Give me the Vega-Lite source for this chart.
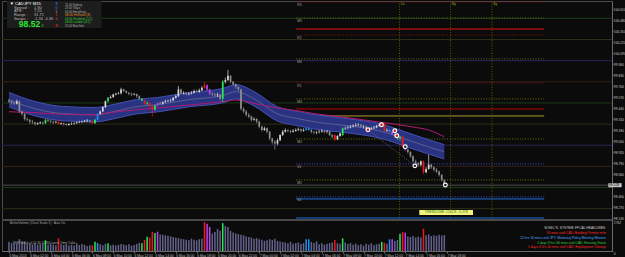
{
"$schema":"https://vega.github.io/schema/vega-lite/v6.json",
"background":"#0b0b0b",
"padding":{"left":1,"top":0,"right":0,"bottom":0},
"spacing":1,
"bounds":"flush",
"config":{"view":{"stroke":"#4a4a4a","strokeWidth":1},"text":{"font":"Liberation Sans"},"axis":{"labelFont":"Liberation Sans","grid":false}},
"datasets":{
"bars":[
{"i":0,"o":99.53,"h":99.55,"l":99.5,"c":99.515,"v":820,"k":"n"},
{"i":1,"o":99.515,"h":99.53,"l":99.48,"c":99.5,"v":700,"k":"n"},
{"i":2,"o":99.5,"h":99.52,"l":99.47,"c":99.49,"v":760,"k":"n"},
{"i":3,"o":99.49,"h":99.54,"l":99.48,"c":99.52,"v":650,"k":"n"},
{"i":4,"o":99.52,"h":99.53,"l":99.38,"c":99.4,"v":1050,"k":"n"},
{"i":5,"o":99.4,"h":99.41,"l":99.35,"c":99.37,"v":900,"k":"n"},
{"i":6,"o":99.37,"h":99.38,"l":99.29,"c":99.31,"v":860,"k":"n"},
{"i":7,"o":99.31,"h":99.33,"l":99.28,"c":99.3,"v":640,"k":"n"},
{"i":8,"o":99.3,"h":99.31,"l":99.25,"c":99.28,"v":720,"k":"n"},
{"i":9,"o":99.28,"h":99.3,"l":99.25,"c":99.27,"v":600,"k":"n"},
{"i":10,"o":99.27,"h":99.28,"l":99.23,"c":99.25,"v":680,"k":"n"},
{"i":11,"o":99.25,"h":99.27,"l":99.24,"c":99.26,"v":560,"k":"n"},
{"i":12,"o":99.26,"h":99.28,"l":99.25,"c":99.27,"v":620,"k":"n"},
{"i":13,"o":99.27,"h":99.28,"l":99.24,"c":99.26,"v":700,"k":"n"},
{"i":14,"o":99.26,"h":99.31,"l":99.25,"c":99.3,"v":950,"k":"g"},
{"i":15,"o":99.3,"h":99.31,"l":99.27,"c":99.29,"v":580,"k":"n"},
{"i":16,"o":99.29,"h":99.3,"l":99.26,"c":99.28,"v":640,"k":"n"},
{"i":17,"o":99.28,"h":99.29,"l":99.25,"c":99.27,"v":560,"k":"n"},
{"i":18,"o":99.27,"h":99.29,"l":99.26,"c":99.275,"v":520,"k":"n"},
{"i":19,"o":99.275,"h":99.3,"l":99.24,"c":99.25,"v":1130,"k":"r"},
{"i":20,"o":99.25,"h":99.27,"l":99.24,"c":99.26,"v":600,"k":"n"},
{"i":21,"o":99.26,"h":99.27,"l":99.23,"c":99.25,"v":540,"k":"n"},
{"i":22,"o":99.25,"h":99.26,"l":99.23,"c":99.24,"v":620,"k":"n"},
{"i":23,"o":99.24,"h":99.26,"l":99.23,"c":99.25,"v":500,"k":"n"},
{"i":24,"o":99.25,"h":99.27,"l":99.24,"c":99.255,"v":560,"k":"n"},
{"i":25,"o":99.255,"h":99.27,"l":99.24,"c":99.26,"v":480,"k":"n"},
{"i":26,"o":99.26,"h":99.28,"l":99.25,"c":99.27,"v":700,"k":"n"},
{"i":27,"o":99.27,"h":99.29,"l":99.26,"c":99.275,"v":540,"k":"n"},
{"i":28,"o":99.275,"h":99.29,"l":99.26,"c":99.28,"v":620,"k":"n"},
{"i":29,"o":99.28,"h":99.3,"l":99.27,"c":99.29,"v":560,"k":"n"},
{"i":30,"o":99.29,"h":99.31,"l":99.27,"c":99.295,"v":450,"k":"n"},
{"i":31,"o":99.295,"h":99.3,"l":99.26,"c":99.28,"v":520,"k":"n"},
{"i":32,"o":99.28,"h":99.29,"l":99.25,"c":99.26,"v":500,"k":"r"},
{"i":33,"o":99.26,"h":99.31,"l":99.25,"c":99.3,"v":830,"k":"g"},
{"i":34,"o":99.3,"h":99.38,"l":99.29,"c":99.37,"v":710,"k":"b"},
{"i":35,"o":99.37,"h":99.41,"l":99.36,"c":99.4,"v":600,"k":"n"},
{"i":36,"o":99.4,"h":99.46,"l":99.39,"c":99.45,"v":520,"k":"n"},
{"i":37,"o":99.45,"h":99.53,"l":99.44,"c":99.52,"v":640,"k":"n"},
{"i":38,"o":99.52,"h":99.57,"l":99.5,"c":99.56,"v":680,"k":"g"},
{"i":39,"o":99.56,"h":99.59,"l":99.55,"c":99.57,"v":500,"k":"n"},
{"i":40,"o":99.57,"h":99.61,"l":99.56,"c":99.6,"v":560,"k":"n"},
{"i":41,"o":99.6,"h":99.62,"l":99.59,"c":99.61,"v":480,"k":"n"},
{"i":42,"o":99.61,"h":99.63,"l":99.6,"c":99.615,"v":540,"k":"n"},
{"i":43,"o":99.615,"h":99.68,"l":99.6,"c":99.66,"v":620,"k":"n"},
{"i":44,"o":99.66,"h":99.67,"l":99.63,"c":99.64,"v":580,"k":"n"},
{"i":45,"o":99.64,"h":99.65,"l":99.61,"c":99.62,"v":520,"k":"n"},
{"i":46,"o":99.62,"h":99.63,"l":99.59,"c":99.61,"v":600,"k":"n"},
{"i":47,"o":99.61,"h":99.62,"l":99.58,"c":99.6,"v":460,"k":"n"},
{"i":48,"o":99.6,"h":99.62,"l":99.59,"c":99.605,"v":540,"k":"n"},
{"i":49,"o":99.605,"h":99.61,"l":99.56,"c":99.58,"v":640,"k":"n"},
{"i":50,"o":99.58,"h":99.59,"l":99.54,"c":99.55,"v":720,"k":"n"},
{"i":51,"o":99.55,"h":99.56,"l":99.52,"c":99.53,"v":680,"k":"g"},
{"i":52,"o":99.53,"h":99.54,"l":99.48,"c":99.49,"v":980,"k":"r"},
{"i":53,"o":99.49,"h":99.52,"l":99.47,"c":99.5,"v":1280,"k":"g"},
{"i":54,"o":99.5,"h":99.51,"l":99.44,"c":99.46,"v":1190,"k":"r"},
{"i":55,"o":99.46,"h":99.47,"l":99.34,"c":99.42,"v":1690,"k":"r"},
{"i":56,"o":99.42,"h":99.48,"l":99.41,"c":99.47,"v":1600,"k":"g"},
{"i":57,"o":99.47,"h":99.51,"l":99.46,"c":99.5,"v":1720,"k":"m"},
{"i":58,"o":99.5,"h":99.52,"l":99.48,"c":99.49,"v":1480,"k":"n"},
{"i":59,"o":99.49,"h":99.52,"l":99.48,"c":99.51,"v":1450,"k":"n"},
{"i":60,"o":99.51,"h":99.54,"l":99.5,"c":99.52,"v":1400,"k":"n"},
{"i":61,"o":99.52,"h":99.54,"l":99.51,"c":99.525,"v":1350,"k":"n"},
{"i":62,"o":99.525,"h":99.55,"l":99.51,"c":99.53,"v":1300,"k":"n"},
{"i":63,"o":99.53,"h":99.57,"l":99.52,"c":99.56,"v":1250,"k":"n"},
{"i":64,"o":99.56,"h":99.6,"l":99.55,"c":99.58,"v":1200,"k":"n"},
{"i":65,"o":99.58,"h":99.7,"l":99.57,"c":99.66,"v":1150,"k":"n"},
{"i":66,"o":99.66,"h":99.67,"l":99.6,"c":99.61,"v":1100,"k":"n"},
{"i":67,"o":99.61,"h":99.64,"l":99.6,"c":99.62,"v":1050,"k":"n"},
{"i":68,"o":99.62,"h":99.63,"l":99.59,"c":99.6,"v":1000,"k":"n"},
{"i":69,"o":99.6,"h":99.63,"l":99.59,"c":99.61,"v":950,"k":"n"},
{"i":70,"o":99.61,"h":99.64,"l":99.6,"c":99.62,"v":1100,"k":"n"},
{"i":71,"o":99.62,"h":99.66,"l":99.61,"c":99.64,"v":1000,"k":"n"},
{"i":72,"o":99.64,"h":99.66,"l":99.62,"c":99.63,"v":950,"k":"n"},
{"i":73,"o":99.63,"h":99.67,"l":99.62,"c":99.65,"v":1050,"k":"n"},
{"i":74,"o":99.65,"h":99.7,"l":99.64,"c":99.68,"v":1100,"k":"n"},
{"i":75,"o":99.68,"h":99.75,"l":99.67,"c":99.71,"v":2580,"k":"r"},
{"i":76,"o":99.71,"h":99.72,"l":99.64,"c":99.66,"v":2430,"k":"m"},
{"i":77,"o":99.66,"h":99.67,"l":99.59,"c":99.61,"v":2140,"k":"m"},
{"i":78,"o":99.61,"h":99.63,"l":99.58,"c":99.6,"v":1550,"k":"n"},
{"i":79,"o":99.6,"h":99.62,"l":99.57,"c":99.59,"v":1700,"k":"n"},
{"i":80,"o":99.59,"h":99.62,"l":99.57,"c":99.6,"v":1960,"k":"n"},
{"i":81,"o":99.6,"h":99.61,"l":99.53,"c":99.55,"v":1800,"k":"n"},
{"i":82,"o":99.55,"h":99.77,"l":99.51,"c":99.75,"v":2480,"k":"g"},
{"i":83,"o":99.75,"h":99.8,"l":99.73,"c":99.77,"v":2220,"k":"n"},
{"i":84,"o":99.77,"h":99.89,"l":99.76,"c":99.82,"v":2140,"k":"n"},
{"i":85,"o":99.82,"h":99.83,"l":99.73,"c":99.75,"v":1800,"k":"n"},
{"i":86,"o":99.75,"h":99.76,"l":99.7,"c":99.72,"v":1650,"k":"n"},
{"i":87,"o":99.72,"h":99.73,"l":99.67,"c":99.69,"v":1550,"k":"n"},
{"i":88,"o":99.69,"h":99.7,"l":99.64,"c":99.66,"v":1500,"k":"n"},
{"i":89,"o":99.66,"h":99.67,"l":99.41,"c":99.43,"v":1450,"k":"n"},
{"i":90,"o":99.43,"h":99.45,"l":99.38,"c":99.4,"v":1400,"k":"n"},
{"i":91,"o":99.4,"h":99.42,"l":99.34,"c":99.36,"v":1300,"k":"n"},
{"i":92,"o":99.36,"h":99.38,"l":99.32,"c":99.34,"v":1250,"k":"n"},
{"i":93,"o":99.34,"h":99.35,"l":99.28,"c":99.3,"v":1200,"k":"n"},
{"i":94,"o":99.3,"h":99.33,"l":99.29,"c":99.31,"v":1100,"k":"n"},
{"i":95,"o":99.31,"h":99.32,"l":99.26,"c":99.28,"v":1150,"k":"n"},
{"i":96,"o":99.28,"h":99.29,"l":99.2,"c":99.22,"v":1050,"k":"n"},
{"i":97,"o":99.22,"h":99.23,"l":99.16,"c":99.18,"v":1000,"k":"n"},
{"i":98,"o":99.18,"h":99.22,"l":99.17,"c":99.2,"v":900,"k":"n"},
{"i":99,"o":99.2,"h":99.21,"l":99.14,"c":99.16,"v":950,"k":"n"},
{"i":100,"o":99.16,"h":99.17,"l":99.06,"c":99.08,"v":1050,"k":"n"},
{"i":101,"o":99.08,"h":99.09,"l":99.01,"c":99.04,"v":980,"k":"n"},
{"i":102,"o":99.04,"h":99.06,"l":98.95,"c":99.02,"v":1100,"k":"n"},
{"i":103,"o":99.02,"h":99.08,"l":99.0,"c":99.06,"v":900,"k":"n"},
{"i":104,"o":99.06,"h":99.13,"l":99.05,"c":99.12,"v":850,"k":"n"},
{"i":105,"o":99.12,"h":99.18,"l":99.11,"c":99.16,"v":800,"k":"n"},
{"i":106,"o":99.16,"h":99.2,"l":99.15,"c":99.18,"v":760,"k":"n"},
{"i":107,"o":99.18,"h":99.19,"l":99.15,"c":99.17,"v":700,"k":"n"},
{"i":108,"o":99.17,"h":99.18,"l":99.14,"c":99.16,"v":820,"k":"n"},
{"i":109,"o":99.16,"h":99.19,"l":99.15,"c":99.17,"v":640,"k":"n"},
{"i":110,"o":99.17,"h":99.2,"l":99.16,"c":99.18,"v":700,"k":"n"},
{"i":111,"o":99.18,"h":99.21,"l":99.17,"c":99.19,"v":760,"k":"n"},
{"i":112,"o":99.19,"h":99.2,"l":99.15,"c":99.17,"v":620,"k":"n"},
{"i":113,"o":99.17,"h":99.2,"l":99.16,"c":99.18,"v":700,"k":"n"},
{"i":114,"o":99.18,"h":99.21,"l":99.17,"c":99.2,"v":1040,"k":"b"},
{"i":115,"o":99.2,"h":99.21,"l":99.17,"c":99.18,"v":1040,"k":"b"},
{"i":116,"o":99.18,"h":99.19,"l":99.14,"c":99.16,"v":800,"k":"n"},
{"i":117,"o":99.16,"h":99.17,"l":99.13,"c":99.15,"v":720,"k":"n"},
{"i":118,"o":99.15,"h":99.17,"l":99.13,"c":99.155,"v":860,"k":"n"},
{"i":119,"o":99.155,"h":99.18,"l":99.14,"c":99.16,"v":600,"k":"n"},
{"i":120,"o":99.16,"h":99.19,"l":99.15,"c":99.17,"v":680,"k":"n"},
{"i":121,"o":99.17,"h":99.18,"l":99.14,"c":99.16,"v":560,"k":"n"},
{"i":122,"o":99.16,"h":99.18,"l":99.14,"c":99.165,"v":640,"k":"n"},
{"i":123,"o":99.165,"h":99.17,"l":99.11,"c":99.12,"v":700,"k":"n"},
{"i":124,"o":99.12,"h":99.13,"l":99.08,"c":99.1,"v":760,"k":"n"},
{"i":125,"o":99.12,"h":99.13,"l":99.05,"c":99.07,"v":980,"k":"r"},
{"i":126,"o":99.07,"h":99.12,"l":99.06,"c":99.11,"v":700,"k":"n"},
{"i":127,"o":99.11,"h":99.15,"l":99.1,"c":99.14,"v":640,"k":"n"},
{"i":128,"o":99.12,"h":99.21,"l":99.11,"c":99.2,"v":1130,"k":"g"},
{"i":129,"o":99.2,"h":99.22,"l":99.18,"c":99.205,"v":760,"k":"n"},
{"i":130,"o":99.205,"h":99.23,"l":99.19,"c":99.21,"v":620,"k":"n"},
{"i":131,"o":99.21,"h":99.24,"l":99.2,"c":99.22,"v":700,"k":"n"},
{"i":132,"o":99.22,"h":99.25,"l":99.21,"c":99.23,"v":560,"k":"n"},
{"i":133,"o":99.23,"h":99.26,"l":99.22,"c":99.24,"v":660,"k":"n"},
{"i":134,"o":99.24,"h":99.26,"l":99.22,"c":99.245,"v":520,"k":"n"},
{"i":135,"o":99.245,"h":99.25,"l":99.21,"c":99.22,"v":600,"k":"n"},
{"i":136,"o":99.22,"h":99.24,"l":99.2,"c":99.225,"v":480,"k":"n"},
{"i":137,"o":99.225,"h":99.23,"l":99.18,"c":99.2,"v":640,"k":"n"},
{"i":138,"o":99.2,"h":99.21,"l":99.17,"c":99.19,"v":560,"k":"n"},
{"i":139,"o":99.19,"h":99.22,"l":99.18,"c":99.2,"v":700,"k":"n"},
{"i":140,"o":99.2,"h":99.23,"l":99.19,"c":99.21,"v":520,"k":"n"},
{"i":141,"o":99.21,"h":99.24,"l":99.2,"c":99.23,"v":600,"k":"n"},
{"i":142,"o":99.23,"h":99.26,"l":99.22,"c":99.24,"v":650,"k":"n"},
{"i":143,"o":99.24,"h":99.27,"l":99.23,"c":99.255,"v":800,"k":"g"},
{"i":144,"o":99.255,"h":99.26,"l":99.16,"c":99.17,"v":740,"k":"r"},
{"i":145,"o":99.17,"h":99.2,"l":99.16,"c":99.18,"v":650,"k":"n"},
{"i":146,"o":99.18,"h":99.19,"l":99.15,"c":99.16,"v":1040,"k":"b"},
{"i":147,"o":99.16,"h":99.17,"l":99.12,"c":99.13,"v":1040,"k":"m"},
{"i":148,"o":99.13,"h":99.14,"l":99.09,"c":99.11,"v":900,"k":"n"},
{"i":149,"o":99.11,"h":99.12,"l":99.06,"c":99.08,"v":980,"k":"n"},
{"i":150,"o":99.08,"h":99.11,"l":99.05,"c":99.1,"v":1540,"k":"g"},
{"i":151,"o":99.1,"h":99.11,"l":98.97,"c":98.98,"v":1690,"k":"r"},
{"i":152,"o":98.98,"h":98.99,"l":98.93,"c":98.95,"v":1630,"k":"m"},
{"i":153,"o":98.95,"h":98.96,"l":98.9,"c":98.92,"v":1300,"k":"n"},
{"i":154,"o":98.92,"h":98.93,"l":98.85,"c":98.87,"v":1250,"k":"n"},
{"i":155,"o":98.87,"h":98.88,"l":98.79,"c":98.81,"v":1335,"k":"n"},
{"i":156,"o":98.81,"h":98.83,"l":98.77,"c":98.79,"v":1200,"k":"n"},
{"i":157,"o":98.79,"h":98.8,"l":98.75,"c":98.77,"v":1280,"k":"n"},
{"i":158,"o":98.77,"h":98.82,"l":98.75,"c":98.81,"v":1200,"k":"n"},
{"i":159,"o":98.81,"h":98.82,"l":98.66,"c":98.68,"v":1990,"k":"r"},
{"i":160,"o":98.68,"h":98.74,"l":98.67,"c":98.72,"v":1400,"k":"n"},
{"i":161,"o":98.72,"h":98.89,"l":98.71,"c":98.77,"v":1480,"k":"n"},
{"i":162,"o":98.77,"h":98.78,"l":98.72,"c":98.74,"v":1330,"k":"n"},
{"i":163,"o":98.74,"h":98.75,"l":98.69,"c":98.71,"v":1400,"k":"n"},
{"i":164,"o":98.71,"h":98.73,"l":98.67,"c":98.69,"v":1350,"k":"n"},
{"i":165,"o":98.69,"h":98.7,"l":98.63,"c":98.65,"v":1450,"k":"n"},
{"i":166,"o":98.65,"h":98.66,"l":98.57,"c":98.59,"v":1380,"k":"n"},
{"i":167,"o":98.59,"h":98.6,"l":98.51,"c":98.528,"v":1420,"k":"n"}
],
"ma":[
{"i":0,"up":99.624,"mid":99.539,"lo":99.454,"mg":99.396},
{"i":10,"up":99.517,"mid":99.432,"lo":99.347,"mg":99.385},
{"i":21,"up":99.458,"mid":99.373,"lo":99.288,"mg":99.365},
{"i":33,"up":99.446,"mid":99.361,"lo":99.276,"mg":99.36},
{"i":40,"up":99.481,"mid":99.396,"lo":99.311,"mg":99.39},
{"i":49,"up":99.541,"mid":99.456,"lo":99.371,"mg":99.42},
{"i":57,"up":99.564,"mid":99.479,"lo":99.394,"mg":99.44},
{"i":69,"up":99.624,"mid":99.539,"lo":99.454,"mg":99.475},
{"i":82,"up":99.671,"mid":99.586,"lo":99.501,"mg":99.515},
{"i":87,"up":99.718,"mid":99.633,"lo":99.548,"mg":99.535},
{"i":94,"up":99.635,"mid":99.55,"lo":99.465,"mg":99.495},
{"i":103,"up":99.455,"mid":99.37,"lo":99.285,"mg":99.44},
{"i":110,"up":99.405,"mid":99.32,"lo":99.235,"mg":99.41},
{"i":117,"up":99.363,"mid":99.278,"lo":99.193,"mg":99.375},
{"i":130,"up":99.315,"mid":99.23,"lo":99.145,"mg":99.325},
{"i":142,"up":99.256,"mid":99.171,"lo":99.086,"mg":99.275},
{"i":155,"up":99.126,"mid":99.041,"lo":98.956,"mg":99.215},
{"i":161,"up":99.065,"mid":98.98,"lo":98.895,"mg":99.18},
{"i":167,"up":99.007,"mid":98.922,"lo":98.837,"mg":99.1}
],
"rnd":[
{"lvl":100.5,"q":"50"},{"lvl":100.25,"q":"25"},{"lvl":100.0,"q":"00"},{"lvl":99.75,"q":"75"},{"lvl":99.5,"q":"50"},
{"lvl":99.25,"q":"25"},{"lvl":99.0,"q":"00"},{"lvl":98.75,"q":"75"},{"lvl":98.5,"q":"50"},{"lvl":98.25,"q":"25"}
],
"piv":[
{"n":"R3","p":100.693,"t":"res"},{"n":"M5","p":100.504,"t":"mid"},{"n":"","p":100.374,"t":"hi"},
{"n":"R2","p":100.303,"t":"res"},{"n":"M4","p":100.02,"t":"mid"},{"n":"R1","p":99.736,"t":"res"},
{"n":"M3","p":99.547,"t":"mid"},{"n":"","p":99.429,"t":"hi2"},{"n":"PP","p":99.346,"t":"pp"},
{"n":"M2","p":99.074,"t":"mid"},{"n":"S1","p":98.779,"t":"sup"},{"n":"M1","p":98.59,"t":"mid"},
{"n":"S2","p":98.389,"t":"sup"},{"n":"","p":98.365,"t":"lo"},{"n":"","p":98.14,"t":"lo"}
],
"ses":[{"i":149.8,"s":"Lo"},{"i":169.4,"s":"Ny"},{"i":185.3,"s":"Sy"}],
"sig":[
{"i":137.7,"p":99.183,"k":"up"},{"i":142.9,"p":99.242,"k":"up"},{"i":148,"p":99.171,"k":"up"},
{"i":148.8,"p":99.112,"k":"up"},{"i":152,"p":98.982,"k":"dn"},{"i":155.7,"p":98.756,"k":"dn"},{"i":167.4,"p":98.53,"k":"dn"}
],
"zz":[{"i":137.7,"p":99.183},{"i":155.7,"p":98.756}],
"info":[
{"i":0.3,"p":100.672,"t":"▼ CADJPY  M15","g":"hd"},
{"i":1.9,"p":100.622,"t":"Spread :","g":"lb"},{"i":9.6,"p":100.622,"t":"1.90","g":"lb"},
{"i":1.9,"p":100.581,"t":"ATR :","g":"lb"},{"i":9.6,"p":100.581,"t":"7.20","g":"lb"},
{"i":1.9,"p":100.54,"t":"Range :","g":"lb"},{"i":9.6,"p":100.54,"t":"31.71","g":"lb"},
{"i":1.9,"p":100.498,"t":"Swaps :","g":"lb"},{"i":9.6,"p":100.498,"t":"-1.34 -4.36","g":"lb"},
{"i":12.6,"p":100.418,"t":"8","g":"gn"},
{"i":17.9,"p":100.664,"t":"8","g":"bl"},{"i":17.9,"p":100.622,"t":"0","g":"bl"},{"i":17.9,"p":100.581,"t":"3","g":"gy"},
{"i":17.9,"p":100.54,"t":"1","g":"rd"},{"i":17.9,"p":100.498,"t":"6","g":"rd"},{"i":17.9,"p":100.415,"t":"R","g":"rd"},
{"i":21.5,"p":100.664,"t":"21:00  Sydney","g":"gy"},
{"i":21.5,"p":100.622,"t":"23:00  Tokyo","g":"gy"},
{"i":21.5,"p":100.581,"t":"00:00  HongKong","g":"gy"},
{"i":21.5,"p":100.54,"t":"08:00  Helsinki (8)","g":"or"},
{"i":21.5,"p":100.498,"t":"09:00  Frankfurt (1.5)","g":"gn"},
{"i":21.5,"p":100.457,"t":"08:00  London (3.5)","g":"gn"},
{"i":21.5,"p":100.415,"t":"15:00  NewYork","g":"gy"}
],
"bigp":[{"i":3.8,"p":100.433,"t":"98.52"}],
"vtx":[
{"i":0.3,"v":2490,"t":"BetterVolume (Chart Scale 1)  ·  Asia On"},
{"i":1.5,"v":700,"t":"TSE Lunch: 0 11:30 12:30   Lunch Time Color"}
],
"cal":[
{"i":229,"v":2050,"t":"SONIC R. SYSTEM: FFCAL HEADLINES:","g":"hd"},
{"i":229,"v":1600,"t":"56 mins until CAD: Building Permits m/m","g":"rd"},
{"i":229,"v":1155,"t":"12 hrs 16 mins until JPY: Monetary Policy Meeting Minutes","g":"bl"},
{"i":229,"v":755,"t":"1 days 3 hrs 36 mins until CAD: Housing Starts","g":"gn"},
{"i":229,"v":356,"t":"1 days 4 hrs 16 mins until CAD: Employment Change","g":"rd"}
]
},
"vconcat":[
{"width":610,"height":218,
"resolve":{"scale":{"color":"independent","strokeDash":"independent","size":"independent"},"axis":{"x":"independent","y":"independent"}},
"layer":[
{"data":{"name":"rnd"},"mark":{"type":"rule","strokeWidth":1},
"encoding":{"y":{"field":"lvl","type":"quantitative","scale":{"domain":[98.128,100.705],"nice":false,"zero":false},
"axis":{"orient":"right","title":null,"values":[100.61,100.48,100.35,100.22,100.09,99.96,99.83,99.70,99.57,99.44,99.31,99.18,99.05,98.92,98.79,98.66,98.40,98.27,98.14],"format":".3f","labelFontSize":3.3,"labelColor":"#c8c8c8","domainColor":"#6a6a6a","tickColor":"#6a6a6a","tickSize":1,"labelPadding":0.3,"labelBound":false,"labelOverlap":false,"labelFlush":false}},
"color":{"field":"q","type":"nominal","scale":{"domain":["00","25","50","75"],"range":["#24245a","#2e2e1a","#183c18","#33221a"]},"legend":null}}},
{"data":{"values":[{}]},"mark":{"type":"rect","color":"#1d1d1d"},
"encoding":{"x":{"datum":-0.75,"type":"quantitative","scale":{"domain":[-0.75,229.4],"nice":false,"zero":false},"axis":null},"x2":{"datum":35.5},
"y":{"datum":100.705,"type":"quantitative","scale":{"domain":[98.128,100.705],"nice":false,"zero":false},"axis":null},"y2":{"datum":100.386}}},
{"data":{"values":[{}]},"mark":{"type":"rule","color":"#4c4c4c","strokeWidth":1},
"encoding":{"y":{"datum":98.528,"type":"quantitative","scale":{"domain":[98.128,100.705],"nice":false,"zero":false},"axis":null}}},
{"data":{"name":"piv"},"mark":{"type":"rule"},
"encoding":{"x":{"datum":110.2,"type":"quantitative","scale":{"domain":[-0.75,229.4],"nice":false,"zero":false},"axis":null},"x2":{"datum":205.3},
"y":{"field":"p","type":"quantitative","scale":{"domain":[98.128,100.705],"nice":false,"zero":false},"axis":null},
"color":{"field":"t","type":"nominal","scale":{"domain":["res","mid","sup","pp","hi","hi2","lo"],"range":["#8c1212","#707010","#4a4ad2","#bcac30","#ff1414","#c80000","#1e7cf0"]},"legend":null},
"strokeDash":{"field":"t","type":"nominal","scale":{"domain":["res","mid","sup","pp","hi","hi2","lo"],"range":[[1,1.6],[1,1.6],[1,1.6],[1,0],[1,0],[1,0],[1,0]]},"legend":null},
"size":{"field":"t","type":"nominal","scale":{"domain":["res","mid","sup","pp","hi","hi2","lo"],"range":[1,1,1,1.1,1.8,1.4,1.6]},"legend":null}}},
{"data":{"name":"piv"},"mark":{"type":"text","align":"left","baseline":"top","dy":0.8,"fontSize":3.3,"color":"#a4a4a4"},
"encoding":{"x":{"datum":110.6,"type":"quantitative","scale":{"domain":[-0.75,229.4],"nice":false,"zero":false},"axis":null},
"y":{"field":"p","type":"quantitative","scale":{"domain":[98.128,100.705],"nice":false,"zero":false},"axis":null},"text":{"field":"n"}}},
{"data":{"name":"ses"},"mark":{"type":"rule","color":"#5e5e08","strokeDash":[1,1.6],"strokeWidth":1},
"encoding":{"x":{"field":"i","type":"quantitative","scale":{"domain":[-0.75,229.4],"nice":false,"zero":false},"axis":null}}},
{"data":{"name":"ses"},"mark":{"type":"text","align":"left","baseline":"top","dx":1.2,"fontSize":3.4,"color":"#a8a820"},
"encoding":{"x":{"field":"i","type":"quantitative","scale":{"domain":[-0.75,229.4],"nice":false,"zero":false},"axis":null},
"y":{"datum":100.69,"type":"quantitative","scale":{"domain":[98.128,100.705],"nice":false,"zero":false},"axis":null},"text":{"field":"s"}}},
{"data":{"name":"ma"},"mark":{"type":"area","color":"#2a3382","interpolate":"monotone"},
"encoding":{"x":{"field":"i","type":"quantitative","scale":{"domain":[-0.75,229.4],"nice":false,"zero":false},"axis":null},
"y":{"field":"up","type":"quantitative","scale":{"domain":[98.128,100.705],"nice":false,"zero":false},"axis":null},"y2":{"field":"lo"}}},
{"data":{"name":"ma"},"mark":{"type":"line","color":"#4656be","strokeWidth":0.9,"interpolate":"monotone"},
"encoding":{"x":{"field":"i","type":"quantitative","scale":{"domain":[-0.75,229.4],"nice":false,"zero":false},"axis":null},
"y":{"field":"up","type":"quantitative","scale":{"domain":[98.128,100.705],"nice":false,"zero":false},"axis":null}}},
{"data":{"name":"ma"},"mark":{"type":"line","color":"#4656be","strokeWidth":0.9,"interpolate":"monotone"},
"encoding":{"x":{"field":"i","type":"quantitative","scale":{"domain":[-0.75,229.4],"nice":false,"zero":false},"axis":null},
"y":{"field":"lo","type":"quantitative","scale":{"domain":[98.128,100.705],"nice":false,"zero":false},"axis":null}}},
{"data":{"name":"ma"},"mark":{"type":"line","color":"#7c7c9c","strokeWidth":0.6,"interpolate":"monotone"},
"encoding":{"x":{"field":"i","type":"quantitative","scale":{"domain":[-0.75,229.4],"nice":false,"zero":false},"axis":null},
"y":{"field":"mid","type":"quantitative","scale":{"domain":[98.128,100.705],"nice":false,"zero":false},"axis":null}}},
{"data":{"name":"ma"},"mark":{"type":"line","color":"#b01a72","strokeWidth":1,"interpolate":"monotone"},
"encoding":{"x":{"field":"i","type":"quantitative","scale":{"domain":[-0.75,229.4],"nice":false,"zero":false},"axis":null},
"y":{"field":"mg","type":"quantitative","scale":{"domain":[98.128,100.705],"nice":false,"zero":false},"axis":null}}},
{"data":{"name":"bars"},"mark":{"type":"rule","strokeWidth":0.7},
"encoding":{"x":{"field":"i","type":"quantitative","scale":{"domain":[-0.75,229.4],"nice":false,"zero":false},"axis":null},
"y":{"field":"l","type":"quantitative","scale":{"domain":[98.128,100.705],"nice":false,"zero":false},"axis":null},"y2":{"field":"h"},
"color":{"condition":[{"test":"datum.k === 'n' && datum.c >= datum.o","value":"#d8d8d8"},{"test":"datum.k === 'n'","value":"#8e8e8e"}],
"field":"k","type":"nominal","scale":{"domain":["n","g","r","b","m"],"range":["#8e8e8e","#2ee65c","#f01818","#1e90f0","#c040f0"]},"legend":null}}},
{"data":{"name":"bars"},"mark":{"type":"bar","size":1.7},
"encoding":{"x":{"field":"i","type":"quantitative","scale":{"domain":[-0.75,229.4],"nice":false,"zero":false},"axis":null},
"y":{"field":"o","type":"quantitative","scale":{"domain":[98.128,100.705],"nice":false,"zero":false},"axis":null},"y2":{"field":"c"},
"color":{"condition":[{"test":"datum.k === 'n' && datum.c >= datum.o","value":"#d8d8d8"},{"test":"datum.k === 'n'","value":"#8e8e8e"}],
"field":"k","type":"nominal","scale":{"domain":["n","g","r","b","m"],"range":["#8e8e8e","#2ee65c","#f01818","#1e90f0","#c040f0"]},"legend":null}}},
{"data":{"name":"zz"},"mark":{"type":"line","color":"#6c6cac","strokeWidth":0.8,"strokeDash":[1,1.4]},
"encoding":{"x":{"field":"i","type":"quantitative","scale":{"domain":[-0.75,229.4],"nice":false,"zero":false},"axis":null},
"y":{"field":"p","type":"quantitative","scale":{"domain":[98.128,100.705],"nice":false,"zero":false},"axis":null}}},
{"data":{"name":"sig"},"mark":{"type":"point","shape":"circle","filled":true,"color":"#ffffff","size":24,"opacity":1},
"encoding":{"x":{"field":"i","type":"quantitative","scale":{"domain":[-0.75,229.4],"nice":false,"zero":false},"axis":null},
"y":{"field":"p","type":"quantitative","scale":{"domain":[98.128,100.705],"nice":false,"zero":false},"axis":null}}},
{"data":{"name":"sig"},"mark":{"type":"point","shape":"circle","filled":true,"size":6,"opacity":1},
"encoding":{"x":{"field":"i","type":"quantitative","scale":{"domain":[-0.75,229.4],"nice":false,"zero":false},"axis":null},
"y":{"field":"p","type":"quantitative","scale":{"domain":[98.128,100.705],"nice":false,"zero":false},"axis":null},
"color":{"field":"k","type":"nominal","scale":{"domain":["up","dn"],"range":["#c81414","#141414"]},"legend":null}}},
{"data":{"values":[{}]},"mark":{"type":"rect","color":"#f2f27a"},
"encoding":{"x":{"datum":157.4,"type":"quantitative","scale":{"domain":[-0.75,229.4],"nice":false,"zero":false},"axis":null},"x2":{"datum":178},
"y":{"datum":98.235,"type":"quantitative","scale":{"domain":[98.128,100.705],"nice":false,"zero":false},"axis":null},"y2":{"datum":98.175}}},
{"data":{"values":[{"i":167.7,"p":98.205,"t":"TRENDLINE: 1262.8 : 0.278"}]},"mark":{"type":"text","align":"center","baseline":"middle","fontSize":3.4,"color":"#1a7a1a"},
"encoding":{"x":{"field":"i","type":"quantitative","scale":{"domain":[-0.75,229.4],"nice":false,"zero":false},"axis":null},
"y":{"field":"p","type":"quantitative","scale":{"domain":[98.128,100.705],"nice":false,"zero":false},"axis":null},"text":{"field":"t"}}},
{"data":{"name":"info"},"mark":{"type":"text","align":"left","baseline":"middle"},
"encoding":{"x":{"field":"i","type":"quantitative","scale":{"domain":[-0.75,229.4],"nice":false,"zero":false},"axis":null},
"y":{"field":"p","type":"quantitative","scale":{"domain":[98.128,100.705],"nice":false,"zero":false},"axis":null},"text":{"field":"t"},
"color":{"field":"g","type":"nominal","scale":{"domain":["hd","lb","bl","rd","or","gn","gy"],"range":["#ffffff","#b8b8b8","#3399ff","#ff3030","#e8902a","#3ccf3c","#b0b0b0"]},"legend":null},
"size":{"field":"g","type":"nominal","scale":{"domain":["hd","lb","bl","rd","or","gn","gy"],"range":[4.2,2.8,2.8,2.8,2.8,2.8,2.8]},"legend":null}}},
{"data":{"name":"bigp"},"mark":{"type":"text","align":"left","baseline":"middle","fontSize":8.5,"fontWeight":"bold","color":"#2ee62e"},
"encoding":{"x":{"field":"i","type":"quantitative","scale":{"domain":[-0.75,229.4],"nice":false,"zero":false},"axis":null},
"y":{"field":"p","type":"quantitative","scale":{"domain":[98.128,100.705],"nice":false,"zero":false},"axis":null},"text":{"field":"t"}}},
{"data":{"values":[{}]},"mark":{"type":"rect","color":"#c8c8c8","clip":false},
"encoding":{"x":{"datum":229.9,"type":"quantitative","scale":{"domain":[-0.75,229.4],"nice":false,"zero":false},"axis":null},"x2":{"datum":235},
"y":{"datum":98.552,"type":"quantitative","scale":{"domain":[98.128,100.705],"nice":false,"zero":false},"axis":null},"y2":{"datum":98.504}}},
{"data":{"values":[{"i":230.1,"p":98.528,"t":"98.528"}]},"mark":{"type":"text","align":"left","baseline":"middle","fontSize":3.4,"color":"#000000"},
"encoding":{"x":{"field":"i","type":"quantitative","scale":{"domain":[-0.75,229.4],"nice":false,"zero":false},"axis":null},
"y":{"field":"p","type":"quantitative","scale":{"domain":[98.128,100.705],"nice":false,"zero":false},"axis":null},"text":{"field":"t"}}}
]},
{"width":610,"height":31,
"resolve":{"scale":{"color":"independent"},"axis":{"x":"independent","y":"independent"}},
"layer":[
{"data":{"name":"bars"},"mark":{"type":"bar","size":1.5},
"encoding":{"x":{"field":"i","type":"quantitative","scale":{"domain":[-0.75,229.4],"nice":false,"zero":false},
"axis":{"title":null,"values":[0,8,16,24,32,40,48,56,64,72,80,88,96,104,112,120,128,136,144,152,160,168],
"labelExpr":"datum.value == 0 ? '6 May 2013' : timeFormat(datetime(2013, 4, 6, 0, datum.value * 15), '%-d %b %H:%M')",
"labelAlign":"left","labelFontSize":3.3,"labelColor":"#bcbcbc","tickSize":2,"tickColor":"#6a6a6a","domainColor":"#6a6a6a","labelPadding":0.5,"labelFlush":false,"labelOverlap":false,"labelBound":false}},
"y":{"field":"v","type":"quantitative","scale":{"domain":[0,2762],"nice":false,"zero":true},
"axis":{"orient":"right","title":null,"values":[0,2762],"format":"d","labelFontSize":3.3,"labelBaseline":"top","labelColor":"#c4c4c4","domainColor":"#6a6a6a","tickColor":"#6a6a6a","tickSize":1,"labelPadding":0.3,"labelBound":false,"labelFlush":false}},
"color":{"field":"k","type":"nominal","scale":{"domain":["n","g","r","b","m"],"range":["#62628c","#2ee65c","#f01818","#1e90f0","#c040f0"]},"legend":null}}},
{"data":{"name":"vtx"},"mark":{"type":"text","align":"left","baseline":"middle","fontSize":3.2,"color":"#a8a8a8"},
"encoding":{"x":{"field":"i","type":"quantitative","scale":{"domain":[-0.75,229.4],"nice":false,"zero":false},"axis":null},
"y":{"field":"v","type":"quantitative","scale":{"domain":[0,2762],"nice":false,"zero":true},"axis":null},"text":{"field":"t"}}},
{"data":{"name":"cal"},"mark":{"type":"text","align":"right","baseline":"middle","fontSize":3.3},
"encoding":{"x":{"field":"i","type":"quantitative","scale":{"domain":[-0.75,229.4],"nice":false,"zero":false},"axis":null},
"y":{"field":"v","type":"quantitative","scale":{"domain":[0,2762],"nice":false,"zero":true},"axis":null},"text":{"field":"t"},
"color":{"field":"g","type":"nominal","scale":{"domain":["hd","rd","bl","gn"],"range":["#d4d4d4","#ff2a2a","#4aa8ff","#3cd23c"]},"legend":null}}}
]}
]
}
